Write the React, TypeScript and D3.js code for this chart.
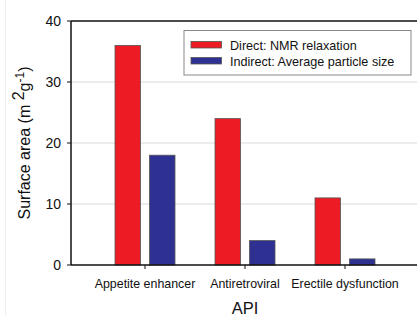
import React from 'react';
import * as d3 from 'd3';

const categories = ['Appetite enhancer', 'Antiretroviral', 'Erectile dysfunction'];
const directValues = [36, 24, 11];
const indirectValues = [18, 4, 1];
const seriesNames = ['Direct: NMR relaxation', 'Indirect: Average particle size'];
const yTicks = [0, 10, 20, 30, 40];

const W = 417;
const H = 315;
const font = 'Liberation Sans, Arial, Helvetica, sans-serif';

const App = () => {
  const left = 71;
  const right = 419;
  const top = 21;
  const bottom = 265;

  const x = d3.scalePoint<string>().domain(categories).range([left, right]).padding(0.74);
  const y = d3.scaleLinear().domain([0, 40]).range([bottom, top]);

  const barW = 25.5;
  const gap = 4.5;

  return (
    <svg width={W} height={H} style={{ position: 'absolute', left: 0, top: 0, background: '#fff' }}
      fontFamily={font}>
      <line x1={5.5} x2={5.5} y1={0} y2={H} stroke="#eee" />
      {/* gridlines */}
      {yTicks.filter(t => t > 0 && t < 40).map(t => (
        <line key={t} x1={left} x2={W} y1={y(t)} y2={y(t)} stroke="#d9d9d9" strokeWidth={1} />
      ))}
      {/* bars */}
      {categories.map((c, i) => {
        const cx = x(c) as number;
        return (
          <g key={c}>
            <rect x={cx - gap - barW} y={y(directValues[i])} width={barW}
              height={bottom - y(directValues[i])} fill="#ed1c24" stroke="#555" strokeWidth={0.8} />
            <rect x={cx + gap} y={y(indirectValues[i])} width={barW}
              height={bottom - y(indirectValues[i])} fill="#2e3192" stroke="#555" strokeWidth={0.8} />
          </g>
        );
      })}
      {/* axes */}
      <line x1={left} x2={W} y1={top} y2={top} stroke="#111" strokeWidth={1.5} />
      <line x1={left} x2={W} y1={bottom} y2={bottom} stroke="#111" strokeWidth={1.5} />
      <line x1={left} x2={left} y1={top} y2={bottom} stroke="#111" strokeWidth={1.5} />
      {yTicks.map(t => (
        <g key={t}>
          <line x1={left - 4} x2={left} y1={y(t)} y2={y(t)} stroke="#111" strokeWidth={1} />
          <text x={left - 10} y={y(t)} dy="0.36em" textAnchor="end" fontSize={14} fill="#111">{t}</text>
        </g>
      ))}
      {categories.map(c => (
        <g key={c}>
          <line x1={x(c) as number} x2={x(c) as number} y1={bottom} y2={bottom + 4} stroke="#111" strokeWidth={1} />
          <text x={x(c) as number} y={287.5} textAnchor="middle" fontSize={12.4} fill="#111">{c}</text>
        </g>
      ))}
      <text x={x(categories[1]) as number} y={313.5} textAnchor="middle" fontSize={16.5} fill="#111">API</text>
      <text transform={`translate(30,${(top + bottom) / 2}) rotate(-90)`} textAnchor="middle" fontSize={16} fill="#111">
        Surface area (m <tspan dy="-6" fontSize={16}>2</tspan><tspan dy="6">g</tspan><tspan dy="-6" fontSize={12}>-1</tspan><tspan dy="6">)</tspan>
      </text>
      {/* legend */}
      <rect x={184} y={30.5} width={227} height={44.5} fill="#fff" stroke="#888" strokeWidth={1} />
      {seriesNames.map((s, i) => (
        <g key={s}>
          <rect x={191} y={41.5 + i * 16} width={30.5} height={6.5} fill={i === 0 ? '#ed1c24' : '#2e3192'} stroke="#555" strokeWidth={0.8} />
          <text x={230} y={45 + i * 16} dy="0.36em" fontSize={12.6} fill="#111">{s}</text>
        </g>
      ))}
    </svg>
  );
};

export default App;
